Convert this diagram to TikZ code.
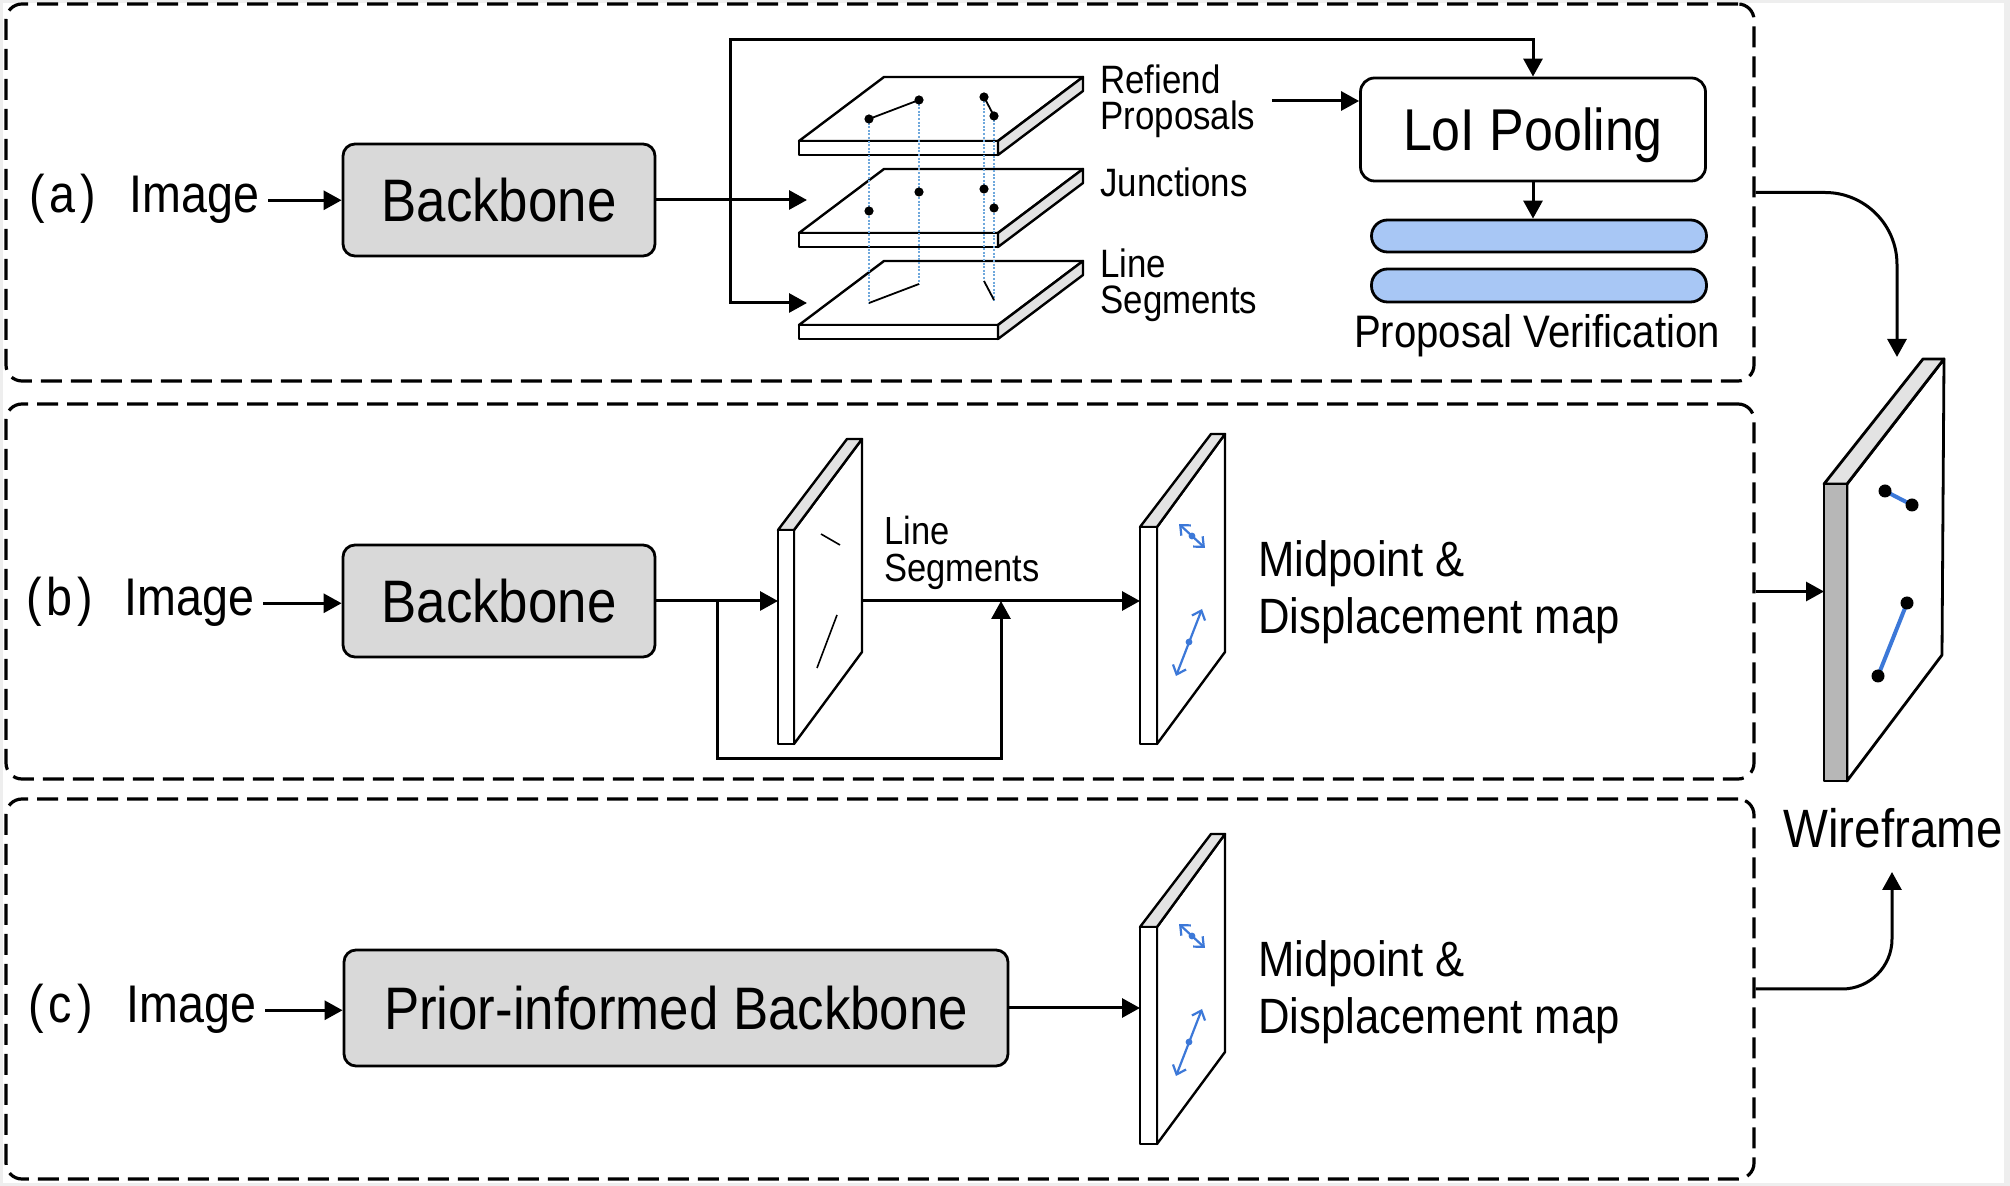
\documentclass[tikz,border=0pt]{standalone}
\usepackage{fontspec}
\setmainfont[FakeStretch=0.88]{Liberation Sans}
\usetikzlibrary{arrows.meta}
\definecolor{boxgray}{HTML}{D9D9D9}
\definecolor{sidegray}{HTML}{E3E3E3}
\definecolor{darkside}{HTML}{B7B7B7}
\definecolor{barblue}{HTML}{A8C7F5}
\definecolor{lineblue}{HTML}{3C78D8}
\definecolor{dotblue}{HTML}{6FA8DC}
\definecolor{framegray}{HTML}{EEEEEE}
\newcommand\fsBB{\fontsize{30}{36}\selectfont}
\newcommand\fsIm{\fontsize{26.5}{32}\selectfont}
\newcommand\fsLo{\fontsize{29.5}{35}\selectfont}
\newcommand\fsSm{\fontsize{19.8}{18}\selectfont}
\newcommand\fsSb{\fontsize{19.6}{18.5}\selectfont}
\newcommand\fsPV{\fontsize{22.8}{26}\selectfont}
\newcommand\fsMd{\fontsize{24.8}{28.5}\selectfont}
\newcommand\fsWf{\fontsize{27}{32}\selectfont}
\newcommand\hslab[1]{%
  \filldraw[plate, fill=white] (799,#1+64) -- (884,#1) -- (1083,#1) -- (998,#1+64) -- cycle;
  \filldraw[plate, fill=white] (799,#1+64) rectangle (998,#1+78);
  \filldraw[plate, fill=sidegray] (998,#1+64) -- (1083,#1) -- (1083,#1+14) -- (998,#1+78) -- cycle;}
\newcommand\mdarrows[1]{%
  \draw[barr] (1179,524+#1) -- (1205,548+#1);
  \fill[lineblue] (1192,536+#1) circle (1.7pt);
  \draw[barr] (1202,609+#1) -- (1176,676+#1);
  \fill[lineblue] (1189,642+#1) circle (1.7pt);}
\tikzset{
  arr/.style={line width=1.5pt, -{Triangle[length=9pt,width=9.5pt]}},
  dbox/.style={draw, line width=1.6pt, dash pattern=on 10.5pt off 4.5pt, rounded corners=8pt, inner sep=0pt},
  gbox/.style={draw, line width=1.4pt, fill=boxgray, rounded corners=6pt, inner sep=0pt, text height=21.5pt, text depth=0pt, font=\fsBB},
  lbl/.style={inner sep=0pt, anchor=base west, font=\fsIm},
  plate/.style={line width=1.2pt, line join=round},
  barr/.style={lineblue, line width=1.1pt, {Straight Barb[length=4pt,width=7pt]}-{Straight Barb[length=4pt,width=7pt]}},
  vdot/.style={dotblue, line width=1pt, dash pattern=on 1pt off 0.8pt},
}
\begin{document}
\begin{tikzpicture}[x=0.5pt,y=-0.5pt]
\fill[framegray] (0,0) rectangle (2010,1186);
\fill[white] (3,3) rectangle (2004,1183);
\useasboundingbox (0,0) rectangle (2010,1186);

% dashed panels
\node[dbox, minimum width=874pt, minimum height=188.5pt] (boxa) at (880,192.5) {};
\node[dbox, minimum width=874pt, minimum height=187.5pt] (boxb) at (880,591.5) {};
\node[dbox, minimum width=874pt, minimum height=190pt] (boxc) at (880,989) {};

% ---------- row (a) ----------
\node[lbl] (pa) at (29,213) {(\kern2.5pt a\kern2.5pt)};
\node[lbl] (ima) at (129,213) {Image};
\node[gbox, minimum width=156pt, minimum height=56pt] (bba) at (499,200) {Backbone};
\draw[arr, shorten <=4.5pt] (ima.east) -- (ima.east -| bba.west);

\hslab{261}
\hslab{169}
\hslab{77}
% dotted verticals
\draw[vdot] (869,119) -- (869,303);
\draw[vdot] (919,100) -- (919,284);
\draw[vdot] (984,97) -- (984,281);
\draw[vdot] (994,116) -- (994,300);
% top plate proposals
\draw[line width=0.9pt] (869,119) -- (919,100);
\draw[line width=0.9pt] (984,97) -- (994,116);
\foreach \p in {(869,119),(919,100),(984,97),(994,116),(869,211),(919,192),(984,189),(994,208)}
  \fill \p circle (2.3pt);
% bottom plate line segments
\draw[line width=0.9pt] (869,303) -- (919,284);
\draw[line width=0.9pt] (984,281) -- (994,300);

\coordinate (aj) at (730,200);
\coordinate (atop) at (730,40);
\coordinate (pJ) at (807,200);
\coordinate (pL) at (807,303);
\draw[arr] (bba.east) -- (pJ);
\draw[arr] (aj) |- (pL);

\node[inner sep=0pt, anchor=west, align=left, font=\fsSm] (tprop) at (1100,101) {Refiend\\Proposals};
\node[lbl, font=\fsSm] (tjun) at (1100,197) {Junctions};
\node[inner sep=0pt, anchor=west, align=left, font=\fsSm] (tseg) at (1100,285) {Line\\Segments};

\node[draw, line width=1.4pt, fill=white, rounded corners=7pt, inner sep=0pt,
      minimum width=172.5pt, minimum height=51.5pt, text height=21pt, text depth=0pt, font=\fsLo]
      (lpool) at (1533,129.5) {LoI Pooling};
\draw[arr] (aj) -- (atop) -| (lpool.north);
\draw[arr, shorten <=8pt] (tprop.east) -- (tprop.east -| lpool.west);

\node[draw, line width=1.4pt, fill=barblue, rounded corners=8pt, inner sep=0pt,
      minimum width=167.5pt, minimum height=16pt] (bar1) at (1539,236) {};
\node[draw, line width=1.4pt, fill=barblue, rounded corners=8pt, inner sep=0pt,
      minimum width=167.5pt, minimum height=16.5pt] (bar2) at (1539,285.5) {};
\draw[arr] (lpool.south) -- (lpool.south |- bar1.north);
\node[inner sep=0pt, anchor=base, font=\fsPV] (tpv) at (1537,348) {Proposal Verification};

% ---------- row (b) ----------
\node[lbl] (pb) at (26,616) {(\kern2.5pt b\kern2.5pt)};
\node[lbl] (imb) at (124,616) {Image};
\node[gbox, minimum width=156pt, minimum height=56pt] (bbb) at (499,601) {Backbone};
\draw[arr, shorten <=4.5pt] (imb.east) -- (imb.east -| bbb.west);

% slab b1
\filldraw[plate, fill=white] (794,530) -- (862,439) -- (862,652) -- (794,744) -- cycle;
\filldraw[plate, fill=sidegray] (778,530) -- (847,439) -- (862,439) -- (794,530) -- cycle;
\filldraw[plate, fill=white] (778,530) rectangle (794,744);
\draw[line width=0.8pt] (821,534) -- (840,545);
\draw[line width=0.8pt] (837,615) -- (817,668);
% slab b2
\filldraw[plate, fill=white] (1157,527) -- (1225,434) -- (1225,652) -- (1157,744) -- cycle;
\filldraw[plate, fill=sidegray] (1140,527) -- (1211,434) -- (1225,434) -- (1157,527) -- cycle;
\filldraw[plate, fill=white] (1140,527) rectangle (1157,744);
\mdarrows{0}

\coordinate (bjn) at (717,601);
\coordinate (blpA) at (717,759);
\coordinate (blpB) at (1001,759);
\coordinate (bmrg) at (1001,601);
\coordinate (b1in) at (778,601);
\coordinate (b1out) at (862,601);
\coordinate (b2in) at (1140,601);
\draw[arr] (bbb.east) -- (b1in);
\draw[arr] (bjn) -- (blpA) -- (blpB) -- (bmrg);
\draw[arr] (b1out) -- (b2in);

\node[inner sep=0pt, anchor=west, align=left, font=\fsSb] (tsegb) at (884,553) {Line\\Segments};
\node[inner sep=0pt, anchor=west, align=left, font=\fsMd] (tmdb) at (1258,592) {Midpoint \&\\Displacement map};

% ---------- row (c) ----------
\node[lbl] (pc) at (28,1023) {(\kern2.5pt c\kern2.5pt)};
\node[lbl] (imc) at (126,1023) {Image};
\node[gbox, minimum width=332pt, minimum height=58pt] (pib) at (676,1008) {Prior-informed Backbone};
\draw[arr, shorten <=4.5pt] (imc.east) -- (imc.east -| pib.west);

\filldraw[plate, fill=white] (1157,927) -- (1225,834) -- (1225,1052) -- (1157,1144) -- cycle;
\filldraw[plate, fill=sidegray] (1140,927) -- (1211,834) -- (1225,834) -- (1157,927) -- cycle;
\filldraw[plate, fill=white] (1140,927) rectangle (1157,1144);
\mdarrows{400}
\coordinate (cin) at (1140,1008);
\draw[arr] (pib.east) -- (cin);
\node[inner sep=0pt, anchor=west, align=left, font=\fsMd] (tmdc) at (1258,992) {Midpoint \&\\Displacement map};

% ---------- wireframe ----------
\filldraw[plate, line width=1.4pt, fill=white] (1847,484) -- (1944,359) -- (1942,655) -- (1847,781) -- cycle;
\filldraw[plate, line width=1.4pt, fill=sidegray] (1824,484) -- (1923,359) -- (1944,359) -- (1847,484) -- cycle;
\filldraw[plate, line width=1.4pt, fill=darkside] (1824,484) rectangle (1847,781);
\draw[lineblue, line width=2pt] (1885,491) -- (1912,505);
\draw[lineblue, line width=2pt] (1907,603) -- (1878,676);
\foreach \p in {(1885,491),(1912,505),(1907,603),(1878,676)}
  \fill \p circle (3.25pt);
\node[inner sep=0pt, anchor=base, font=\fsWf] (wf) at (1893,848) {Wireframe};

\coordinate (wfin) at (1824,591.5);
\coordinate (wftop) at (1897,357);
\coordinate (wfbot) at (1892,872);
\draw[arr] (boxb.east) -- (wfin);
\draw[arr, rounded corners=36pt] (boxa.east) -| (wftop);
\draw[arr, rounded corners=25pt] (boxc.east) -| (wfbot);
\end{tikzpicture}
\end{document}
